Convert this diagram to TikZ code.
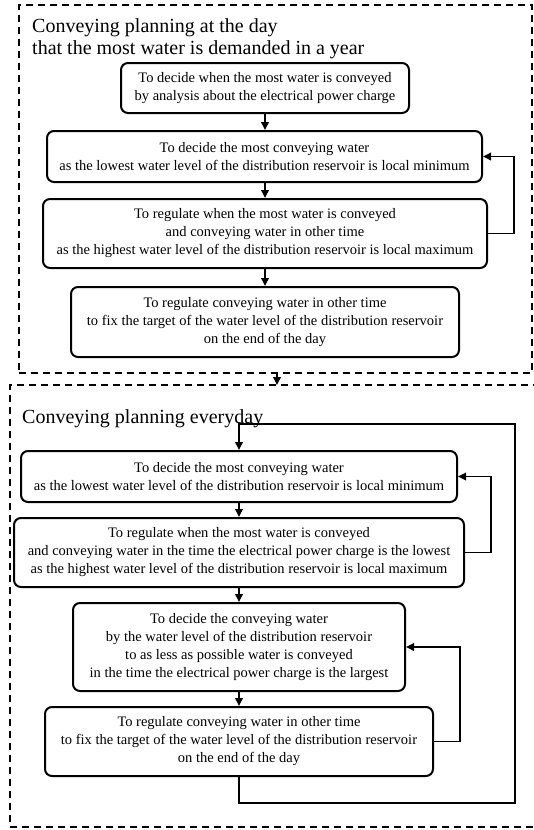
\documentclass[tikz,border=0pt]{standalone}
\usepackage{fontspec}
\setmainfont{Liberation Serif}
\usetikzlibrary{arrows.meta}
\begin{document}
\begin{tikzpicture}[x=1pt,y=-1pt,
  stepbox/.style={draw, line width=2pt, rounded corners=7pt, align=center, inner sep=0pt, font=\fontsize{14.5}{18}\selectfont},
  groupbox/.style={draw, line width=1.6pt, dash pattern=on 7pt off 5pt, inner sep=0pt},
  flow/.style={line width=1.8pt, -{Triangle[length=8pt,width=7.5pt]}},
  titletext/.style={font=\fontsize{20}{22}\selectfont, align=left, inner sep=0pt, anchor=base west}]
\useasboundingbox (0,0) rectangle (534,830);
\clip (0,0) rectangle (534,830);
% group boxes
\node[groupbox, minimum width=513pt, minimum height=368pt] (g1) at (275.5,189) {};
\node[groupbox, minimum width=530pt, minimum height=442pt] (g2) at (275,606) {};
\node[titletext] (t1) at (32,54) {Conveying planning at the day\\that the most water is demanded in a year};
\node[titletext] (t2) at (22,423) {Conveying planning everyday};
% upper steps
\node[stepbox, minimum width=288pt, minimum height=50pt] (n1) at (265,88) {To decide when the most water is conveyed\\by analysis about the electrical power charge};
\node[stepbox, minimum width=435pt, minimum height=51pt] (n2) at (264.5,156.5) {To decide the most conveying water\\as the lowest water level of the distribution reservoir is local minimum};
\node[stepbox, minimum width=444pt, minimum height=69pt] (n3) at (265,233.5) {To regulate when the most water is conveyed\\and conveying water in other time\\as the highest water level of the distribution reservoir is local maximum};
\node[stepbox, minimum width=388pt, minimum height=70pt] (n4) at (265,322) {To regulate conveying water in other time\\to fix the target of the water level of the distribution reservoir\\on the end of the day};
% lower steps
\node[stepbox, minimum width=436pt, minimum height=51pt] (m1) at (239,476.5) {To decide the most conveying water\\as the lowest water level of the distribution reservoir is local minimum};
\node[stepbox, minimum width=450pt, minimum height=69pt] (m2) at (239,552.5) {To regulate when the most water is conveyed\\and conveying water in the time the electrical power charge is the lowest\\as the highest water level of the distribution reservoir is local maximum};
\node[stepbox, minimum width=332pt, minimum height=88pt] (m3) at (239,647) {To decide the conveying water\\by the water level of the distribution reservoir\\to as less as possible water is conveyed\\in the time the electrical power charge is the largest};
\node[stepbox, minimum width=388pt, minimum height=69pt] (m4) at (239,741.5) {To regulate conveying water in other time\\to fix the target of the water level of the distribution reservoir\\on the end of the day};
% connectors
\draw[flow] (n1.south -| 265,0) -- (n2.north -| 265,0);
\draw[flow] (n2.south -| 265,0) -- (n3.north);
\draw[flow] (n3.south) -- (n4.north);
\draw[flow] (n3.east) -- ++(26,0) |- (n2.east);
\coordinate (ga) at (277,373);
\coordinate (gb) at (277,385);
\draw[flow] (ga) -- (gb);
\draw[flow] (m1.south) -- (m2.north);
\draw[flow] (m2.south) -- (m3.north);
\draw[flow] (m3.south) -- (m4.north);
\draw[flow] (m2.east) -- ++(26,0) |- (m1.east);
\draw[flow] (m4.east) -- ++(26,0) |- (m3.east);
\draw[flow] (m4.south) -- ++(0,26) -- ++(276,0) |- ([yshift=26pt]m1.north) -- (m1.north);
\end{tikzpicture}
\end{document}
